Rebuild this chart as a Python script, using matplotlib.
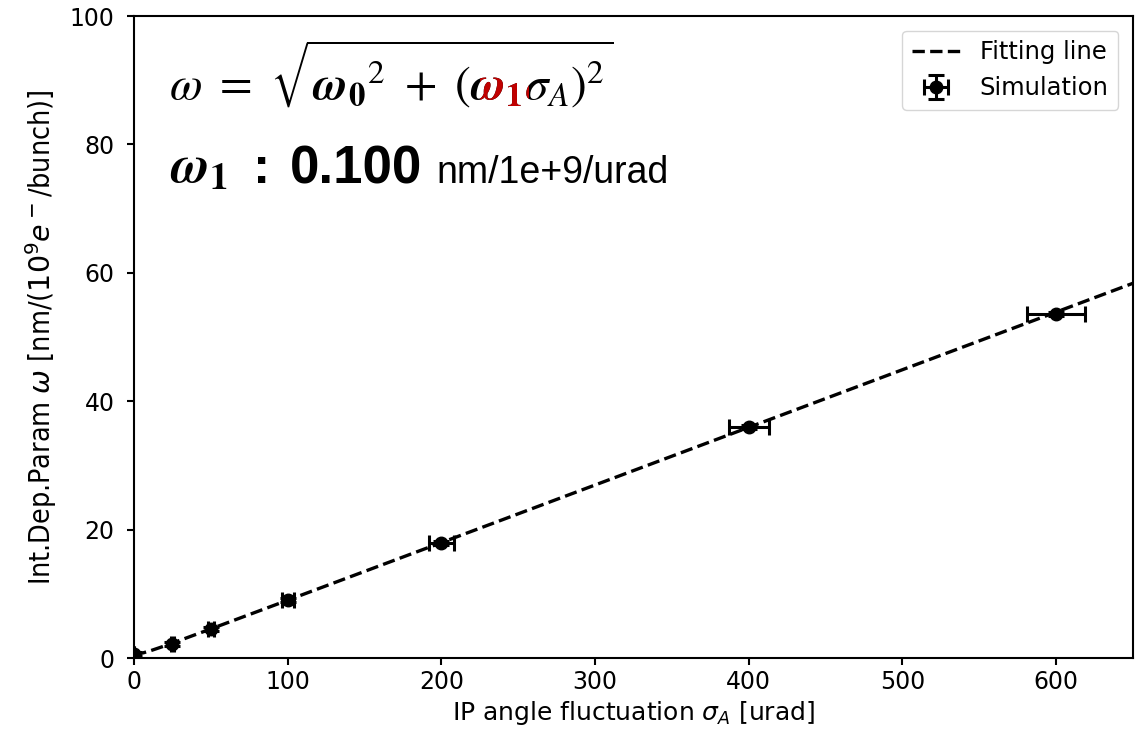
import numpy as np
import matplotlib.pyplot as plt
from matplotlib.patches import Rectangle

# simulation points
sigma_a = [0, 25, 50, 100, 200, 400, 600]
omega = [0.6, 2.2, 4.5, 9.0, 17.9, 36.0, 53.6]
sigma_err = [0, 1, 2, 4, 8, 13, 19]
omega_err = [0.3, 0.3, 0.3, 0.3, 0.3, 0.3, 0.3]

# fit parameters
w0 = 0.6
w1 = 0.0898

W, H = 1142, 741
fig = plt.figure(figsize=(W / 100, H / 100), dpi=100)
ax = fig.add_axes([134 / W, 83 / H, 999 / W, 642 / H])

xs = np.linspace(0, 650, 300)
ax.plot(xs, np.sqrt(w0**2 + (w1 * xs)**2), 'k--', lw=2.4, label='Fitting line', zorder=2)
ax.errorbar(sigma_a, omega, xerr=sigma_err, yerr=omega_err, fmt='o', color='k',
            ms=9, capsize=5.5, elinewidth=2.2, capthick=2.2, label='Simulation', zorder=3)

ax.set_xlim(0, 650)
ax.set_ylim(0, 100)
ax.tick_params(labelsize=17, width=1.5, length=5)
ax.tick_params(axis='y', pad=9)
for s in ax.spines.values():
    s.set_linewidth(1.5)
ax.set_xlabel(r'IP angle fluctuation $\sigma_A$ [urad]', fontsize=18)
ax.set_ylabel(r'Int.Dep.Param $\omega$ [nm/($10^9e^-$/bunch)]', fontsize=20.5,
              family='DejaVu Sans', fontstretch='condensed', labelpad=8)
ax.legend(loc='upper right', fontsize=17.5, handlelength=2.0, borderaxespad=0.6)

# formula annotation
fs = 34
x0, base = 169 / W, (H - 100) / H
head = r'\omega\ =\ \sqrt{{\mathbfit{\omega}_{\mathbf{0}}}^2\ +\ ('
w1_tex = r'\mathbfit{\omega}_{\mathbf{1}}'
formula = '$' + head + w1_tex + r'\sigma_A)^2}$'
fig.text(x0, base, formula, fontsize=fs, color='k', va='baseline', math_fontfamily='stix')
red = fig.text(x0, base, formula, fontsize=fs, color='#c00000', va='baseline',
               math_fontfamily='stix')

# find where omega_1 sits, to colour it red
pre_a = fig.text(x0, base, '$' + head + '}$', fontsize=fs, math_fontfamily='stix')
pre_b = fig.text(x0, base, '$' + head + w1_tex + '}$', fontsize=fs, math_fontfamily='stix')
fig.canvas.draw()
r = fig.canvas.get_renderer()
xa = pre_a.get_window_extent(r).x1
xb = pre_b.get_window_extent(r).x1
pre_a.remove()
pre_b.remove()
red.set_clip_path(Rectangle((xa + 2, 0), xb - xa - 6, H * 0.91, transform=None))

base2 = (H - 183) / H
fig.text(170 / W, base2, r'$\mathbfit{\omega}_{\mathbf{1}}$', fontsize=38, color='k',
         va='baseline', math_fontfamily='stix')
fig.text(253 / W, base2, ':', fontsize=37, fontweight='bold',
         family='Liberation Sans', va='baseline')
fig.text(290 / W, base2, '0.100', fontsize=38, fontweight='bold',
         family='Liberation Sans', va='baseline')
fig.text(436 / W, base2, 'nm/1e+9/urad', fontsize=27,
         family='Liberation Sans', va='baseline')

fig.savefig('out.png', dpi=100)
